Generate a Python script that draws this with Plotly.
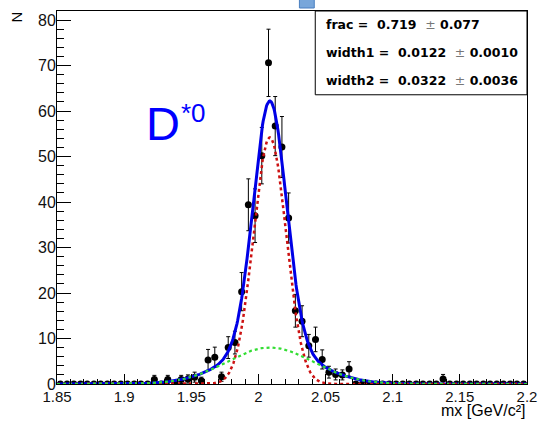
import numpy as np
import plotly.graph_objects as go

# ---------------- data ----------------
bin_width = 0.005
bin_centers = [round(1.8525 + bin_width * i, 4) for i in range(70)]

counts = [0, 0, 0, 0, 0, 0, 0, 0, 0, 0, 0, 0, 0, 0,
          1.0, 0, 1.0, 0, 1.0, 1.1, 1.5, 0.7, 5.3, 5.9, 1.6, 8.0, 9.1, 20.3,
          39.4, 37.0, 50.2, 70.6, 56.7, 52.1, 36.5, 16.1, 13.8, 8.4, 9.8, 5.4,
          2.6, 2.1, 2.0, 3.3,
          0, 0, 0, 0, 0, 0, 0, 0, 0, 0, 0, 0, 0,
          1.1,
          0, 0, 0, 0, 0, 0, 0, 0, 0, 0, 0, 0]

errors = [0, 0, 0, 0, 0, 0, 0, 0, 0, 0, 0, 0, 0, 0,
          0.9, 0, 0.9, 0, 0.9, 0.9, 1.1, 0.8, 2.3, 2.2, 1.0, 2.4, 2.5, 4.2,
          5.7, 5.9, 6.2, 7.4, 6.5, 6.7, 5.5, 3.6, 3.4, 2.5, 2.7, 2.1,
          1.3, 1.2, 1.1, 1.6,
          0, 0, 0, 0, 0, 0, 0, 0, 0, 0, 0, 0, 0,
          1.0,
          0, 0, 0, 0, 0, 0, 0, 0, 0, 0, 0, 0]

# fit parameters (double Gaussian)
mean = 2.0085
frac = 0.719
width1 = 0.0122
width2 = 0.0322
n_events = 461

x_tick_vals = [1.85, 1.9, 1.95, 2.0, 2.05, 2.1, 2.15, 2.2]
x_tick_text = ["1.85", "1.9", "1.95", "2", "2.05", "2.1", "2.15", "2.2"]

stats_lines = [("frac =", "0.719", "0.077"),
               ("width1 =", "0.0122", "0.0010"),
               ("width2 =", "0.0322", "0.0036")]

# ---------------- model curves ----------------
xf = np.linspace(1.85, 2.2, 701)
norm = n_events * bin_width


def gauss(x, m, s):
    return np.exp(-0.5 * ((x - m) / s) ** 2) / (np.sqrt(2 * np.pi) * s)


g1 = norm * frac * gauss(xf, mean, width1)
g2 = norm * (1 - frac) * gauss(xf, mean, width2)
tot = g1 + g2

# ---------------- figure ----------------
W, H = 547, 421
L, R, T, B = 57, 15, 10, 37
pw, ph = W - L - R, H - T - B


def px(xp):
    return (xp - L) / pw


def py(yp):
    return (H - B - yp) / ph


fig = go.Figure()

err_arr = [e if e > 0 else None for e in errors]
fig.add_trace(go.Scatter(
    x=bin_centers, y=counts, mode="markers",
    marker=dict(color="black", size=7, symbol="circle"),
    error_y=dict(type="data", array=err_arr, visible=True,
                 color="black", thickness=1, width=2),
    showlegend=False))

fig.add_trace(go.Scatter(x=xf, y=tot, mode="lines",
                         line=dict(color="#0000e6", width=3), showlegend=False))
fig.add_trace(go.Scatter(x=xf, y=g1, mode="lines",
                         line=dict(color="#cc1111", width=2.5, dash="dot"),
                         showlegend=False))
fig.add_trace(go.Scatter(x=xf, y=g2, mode="lines",
                         line=dict(color="#33dd33", width=2.2, dash="dot"),
                         showlegend=False))

font_family = "Liberation Sans, Arial, Helvetica, sans-serif"
stat_family = "DejaVu Sans, Liberation Sans, sans-serif"

fig.update_layout(
    width=W, height=H,
    margin=dict(l=L, r=R, t=T, b=B, pad=0),
    paper_bgcolor="white", plot_bgcolor="white",
    font=dict(family=font_family, size=16, color="black"),
    xaxis=dict(range=[1.85, 2.2], tickmode="array", tickvals=x_tick_vals,
               ticktext=x_tick_text, ticks="inside", ticklen=10,
               tickcolor="black", tickwidth=1,
               minor=dict(tickmode="linear", tick0=1.85, dtick=0.01,
                          ticks="inside", ticklen=5, tickcolor="black"),
               showgrid=False, zeroline=False, showline=True, mirror=True,
               linecolor="black", linewidth=1, ticklabelstandoff=-1,
               tickfont=dict(size=15, family=font_family, color="#111")),
    yaxis=dict(range=[0, 82], tickmode="linear", tick0=0, dtick=10,
               ticks="inside", ticklen=14, tickcolor="black", tickwidth=1,
               minor=dict(tickmode="linear", tick0=0, dtick=2,
                          ticks="inside", ticklen=7, tickcolor="black"),
               showgrid=False, zeroline=False, showline=True, mirror=True,
               linecolor="black", linewidth=1, ticklabelstandoff=-3,
               tickfont=dict(size=16, family=font_family, color="#111")),
)

# stats box
fig.add_shape(type="rect", xref="paper", yref="paper",
              x0=px(318), x1=1.0, y0=py(94), y1=1.0,
              fillcolor="white", line=dict(color="black", width=1), layer="above")

nb = "\u00a0"
for (name, val, err), yc in zip(stats_lines, [24, 52, 80]):
    txt = (f"<b>{name}{nb}{nb}{val}{nb}{nb}</b>"
           f"<span style='color:#777'>±</span><b>{nb}{err}</b>")
    fig.add_annotation(xref="paper", yref="paper", x=px(327), y=py(yc),
                       xanchor="left", yanchor="middle", text=txt,
                       showarrow=False,
                       font=dict(size=12.5, family=stat_family, color="black"))

# small blue box at top
fig.add_shape(type="rect", xref="paper", yref="paper",
              x0=px(302), x1=px(317), y0=py(7), y1=py(-2),
              fillcolor="#78a6da", line=dict(color="#4a7fc0", width=1),
              layer="above")

# D*0 label
fig.add_annotation(xref="paper", yref="paper", x=px(145), y=py(123),
                   xanchor="left", yanchor="middle", text="D",
                   showarrow=False,
                   font=dict(size=47, family=font_family, color="#0000ff"))
fig.add_annotation(xref="paper", yref="paper", x=px(180), y=py(112),
                   xanchor="left", yanchor="middle", text="*0",
                   showarrow=False,
                   font=dict(size=26, family=font_family, color="#0000ff"))

# axis titles
fig.add_annotation(xref="paper", yref="paper", x=1.0, y=py(421),
                   xanchor="right", yanchor="bottom",
                   text="mx [GeV/c²]", showarrow=False,
                   font=dict(size=16, family=font_family, color="black"))
fig.add_annotation(xref="paper", yref="paper", x=px(17), y=py(16),
                   xanchor="center", yanchor="middle", text="N",
                   textangle=-90, showarrow=False,
                   font=dict(size=15, family=font_family, color="black"))

fig.write_html("out.html",
               config={"displayModeBar": False},
               post_script="document.body.style.margin='0';"
                           "document.body.style.overflow='hidden';")
